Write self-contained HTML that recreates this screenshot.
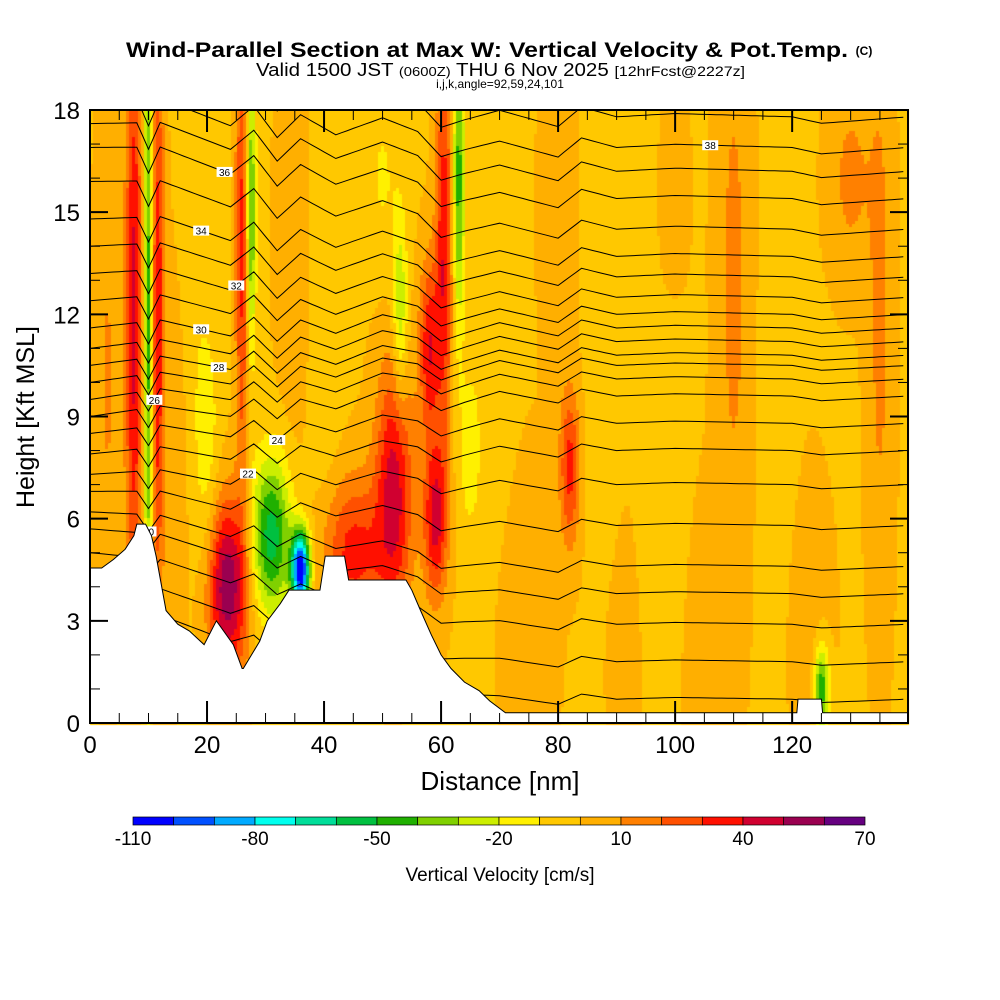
<!DOCTYPE html>
<html><head><meta charset="utf-8"><style>
body{margin:0;background:#fff;}
#wrap{position:relative;width:1000px;height:1000px;font-family:"Liberation Sans",sans-serif;}
canvas{position:absolute;left:0;top:0;}
svg{position:absolute;left:0;top:0;}
</style></head><body>
<div id="wrap">
<canvas id="cv" width="1000" height="1000"></canvas>
<svg id="sv" width="1000" height="1000"></svg>
</div>
<script>
// ---- data ----
const levels=[-110,-100,-90,-80,-70,-60,-50,-40,-30,-20,-10,0,10,20,30,40,50,60,70];
const colors=["#0000FF","#0050FF","#00AAFF","#00FFEE","#00DD99","#00C040","#20B000","#80D000","#CCEE00","#FFF000","#FFC800","#FFAF00","#FF8000","#FF5000","#FF1000","#D00030","#9A0050","#660080"];
const cbLabels=[-110,-80,-50,-20,10,40,70];
const terrDist=[0,2,4,6,7.5,8,9.5,10.5,11.3,13,15,17,19.5,21.6,24.5,26,26.2,29,30.3,32.5,34,39.3,40.2,43.5,44.2,54,55,56.5,58.3,60,61.7,64,66.5,68.3,71,120.8,121,125,125.2,139.8];
const terrH=[4.55,4.55,4.8,5.1,5.5,5.84,5.84,5.5,4.9,3.3,2.9,2.7,2.3,3.0,2.3,1.6,1.6,2.4,3.0,3.5,3.9,3.9,4.9,4.9,4.2,4.2,3.9,3.3,2.6,2.0,1.6,1.2,0.95,0.65,0.3,0.3,0.7,0.7,0.3,0.3];
// features: dist, height, sigma dist, sigma height, amplitude (cm/s)
const fD=[7.5,10,11.5,26,27.5,23.5,31,36,45,52,59,60.5,63,58,53,82,125,130,3,17,20,40,65,70,88,100,110,118,135,50,95,15,35,75,92,105,122,100,80];
const fZ=[12,12,12,14,15,4,5.5,4.5,5,7,6,14,16,11,12,7.5,1,16,10,12,8,12,8,14,12,10,13,8,12,16,4,8,14,3,3,2,3,14,15];
const fSX=[1.0,0.6,0.8,0.8,0.6,2.4,2.4,1.1,4,2.2,1.4,1.0,0.7,1.2,0.9,1.2,0.9,2.5,1.5,1.5,1.5,2,1.5,2,2,2,2,2,1.5,2,3,2,2,3,3,3,3,2,2];
const fSZ=[6,7,6,5,3,1.8,1.6,0.8,1.6,2.6,1.6,4,3,1.8,2,1.6,0.9,2,5,6,3,6,2,5,6,6,6,6,6,2,3,4,4,3,3,3,3,4,3];
const fA=[45,-50,40,35,-45,60,-55,-110,35,45,45,40,-45,40,-30,35,-50,14,12,-8,-15,-8,-14,-6,-7,-8,14,-7,14,-10,-6,10,10,9,8,9,8,9,9];
const thetaLev=[16,17,18,19,20,21,22,23,24,25,26,27,28,29,30,31,32,33,34,35,36,37,38,39];
const zLeft=[3.5,4.2,5.0,5.7,6.2,6.8,7.3,7.9,8.5,9.0,9.5,10.0,10.5,11.0,11.6,12.4,13.2,14.0,14.8,15.9,16.9,17.6,18.3,19];
const zRight=[0.7,1.8,2.9,3.8,4.6,5.8,7.0,8.0,8.8,9.6,10.1,10.5,10.8,11.2,11.6,12.0,12.5,13.1,13.7,14.5,15.4,16.2,16.9,17.8];
const wigD=[0,8,10,12,18,24,28,32,36,42,50,56,60,64,70,80,84,90,100,120,125,139.8];
const wigZ=[0,0.1,-0.3,0.15,0,-0.15,0.2,-0.25,0.15,-0.1,0.25,0.1,-0.25,-0.1,0.1,-0.15,0.15,0,0.05,0,-0.1,0];
const labLev=[20,22,24,26,28,30,32,34,36,38];
const labD=[10,27,32,11,22,19,25,19,23,106];
// ---- axes ----
const X0=90,X1=908,Y0=723,Y1=110,DMAX=139.8,ZMAX=18;
const sx=d=>X0+d/DMAX*(X1-X0), sy=z=>Y0-z/ZMAX*(Y0-Y1);
function interp(xs,ys,x){if(x<=xs[0])return ys[0];for(let i=1;i<xs.length;i++){if(x<=xs[i]){const t=(x-xs[i-1])/(xs[i]-xs[i-1]||1);return ys[i-1]+t*(ys[i]-ys[i-1]);}}return ys[ys.length-1];}
function wAt(d,z){let w=-1;for(let i=0;i<fD.length;i++){const a=(d-fD[i])/fSX[i],b=(z-fZ[i])/fSZ[i];w+=fA[i]*Math.exp(-0.5*(a*a+b*b));}return w;}
function col(w){for(let i=0;i<colors.length;i++){if(w<levels[i+1])return colors[i];}return colors[colors.length-1];}
// ---- field ----
const ctx=document.getElementById('cv').getContext('2d');
const st=3;
for(let px=X0;px<X1;px+=st){for(let py=Y1;py<Y0;py+=st){const d=(px+st/2-X0)/(X1-X0)*DMAX,z=(Y0-(py+st/2))/(Y0-Y1)*ZMAX;ctx.fillStyle=col(wAt(d,z));ctx.fillRect(px,py,st,st);}}
// ---- svg ----
const NS="http://www.w3.org/2000/svg",S=document.getElementById('sv');
function el(t,a,p){const e=document.createElementNS(NS,t);for(const k in a)e.setAttribute(k,a[k]);(p||S).appendChild(e);return e;}
const defs=el('defs',{});
const cp=el('clipPath',{id:'pc'},defs);el('rect',{x:X0,y:Y1,width:X1-X0,height:Y0-Y1},cp);
// contours
const cg=el('g',{'clip-path':'url(#pc)'});


function zTh(i,d){const t=Math.min(1,d/70);return zLeft[i]*(1-t)+zRight[i]*t+interp(wigD,wigZ,d)*(1+i*0.04);}
thetaLev.forEach((th,i)=>{let pts=[];for(let d=0;d<=DMAX;d+=1){pts.push(sx(d).toFixed(1)+','+sy(zTh(i,d)).toFixed(1));}
 const p=el('polyline',{points:pts.join(' '),fill:'none',stroke:'#000','stroke-width':1},cg);
 
 
 const li=labLev.indexOf(th);
 if(li>=0){const d=labD[li],z=zTh(i,d);
  el('rect',{x:sx(d)-8,y:sy(z)-5,width:16,height:10,fill:'#fff'},cg);
  const tx=el('text',{x:sx(d),y:sy(z)+4,'font-size':10,'text-anchor':'middle','font-family':'Liberation Sans, sans-serif'},cg);tx.textContent=th;
  
  }
});
// terrain
let tp=[sx(0)+','+Y0];for(let i=0;i<terrDist.length;i++){tp.push(sx(terrDist[i])+','+sy(terrH[i]));}tp.push(X1+','+sy(0.3));tp.push(X1+','+Y0);
const terr=el('polygon',{points:tp.join(' '),fill:'#fff',stroke:'#000','stroke-width':1});


// frame
const fr=el('rect',{x:X0,y:Y1,width:X1-X0,height:Y0-Y1,fill:'none',stroke:'#000','stroke-width':2});


// ticks
for(let z=0;z<=18;z++){const maj=z%3==0,L=maj?18:10;el('line',{x1:X0,x2:X0+L,y1:sy(z),y2:sy(z),stroke:'#000','stroke-width':maj?2:1});el('line',{x1:X1,x2:X1-L,y1:sy(z),y2:sy(z),stroke:'#000','stroke-width':maj?2:1});
 if(maj){const t=el('text',{x:X0-10,y:sy(z)+9,'font-size':24,'text-anchor':'end'});t.textContent=z;
 
 }}
for(let d=0;d<=135;d+=5){const maj=d%20==0,L=maj?22:10;el('line',{x1:sx(d),x2:sx(d),y1:Y0,y2:Y0-L,stroke:'#000','stroke-width':maj?2:1});el('line',{x1:sx(d),x2:sx(d),y1:Y1,y2:Y1+L,stroke:'#000','stroke-width':maj?2:1});
 if(maj){const t=el('text',{x:sx(d),y:Y0+30,'font-size':24,'text-anchor':'middle'});t.textContent=d;
 
 }}
let t;
t=el('text',{x:500,y:790,'font-size':26,'text-anchor':'middle'});t.textContent='Distance [nm]';


t=el('text',{x:0,y:0,'font-size':25,'text-anchor':'middle',transform:'translate(34,417) rotate(-90)'});t.textContent='Height [Kft MSL]';


t=el('text',{x:126,y:57,'font-size':21,'font-weight':'bold',textLength:722,lengthAdjust:'spacingAndGlyphs'});t.textContent='Wind-Parallel Section at Max W: Vertical Velocity & Pot.Temp.';


t=el('text',{x:864,y:55,'font-size':12,'font-weight':'bold','text-anchor':'middle'});t.textContent='(C)';


t=el('text',{x:256,y:76,'font-size':18,textLength:489,lengthAdjust:'spacingAndGlyphs'});t.innerHTML='Valid 1500 JST <tspan font-size="13">(0600Z)</tspan> THU 6 Nov 2025 <tspan font-size="14">[12hrFcst@2227z]</tspan>';


t=el('text',{x:500,y:88,'font-size':12,'text-anchor':'middle'});t.textContent='i,j,k,angle=92,59,24,101';


// colorbar
const CB0=133,CB1=865,cbw=(CB1-CB0)/colors.length;
const cb=el('g',{});


colors.forEach((c,i)=>{const r=el('rect',{x:CB0+i*cbw,y:817,width:cbw,height:8,fill:c,stroke:'#000','stroke-width':0.7},cb);
 
 });
cbLabels.forEach(v=>{const x=CB0+(v-levels[0])/(levels[levels.length-1]-levels[0])*(CB1-CB0);const tt=el('text',{x:x,y:845,'font-size':19,'text-anchor':'middle'},cb);tt.textContent=v;
 
 });
t=el('text',{x:500,y:881,'font-size':19,'text-anchor':'middle'});t.textContent='Vertical Velocity [cm/s]';


</script>
</body></html>
